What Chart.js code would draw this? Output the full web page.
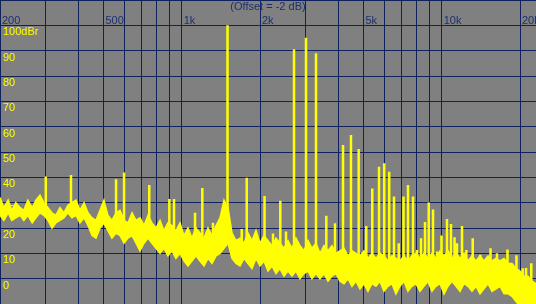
<!DOCTYPE html>
<html>
<head>
<meta charset="utf-8">
<script src="https://cdn.jsdelivr.net/npm/chart.js@4"></script>
<style>
  html, body { margin: 0; padding: 0; background: #808080; }
  #chart { display: block; }
</style>
</head>
<body>
<canvas id="chart" width="536" height="304"></canvas>
<script>
// ── Noise floor: sample frequencies (Hz) with upper / lower band edges (dBr) ──
var noiseFreqs = [
  200, 207, 215, 222, 230, 239, 247, 256, 266, 275,
  285, 295, 306, 317, 328, 340, 352, 365, 378, 392,
  406, 421, 436, 452, 468, 485, 502, 520, 539, 559,
  579, 600, 621, 644, 667, 691, 716, 742, 768, 796,
  825, 854, 885, 917, 950, 985, 1020, 1057, 1095, 1134,
  1175, 1218, 1262, 1308, 1355, 1404, 1454, 1507, 1561, 1617,
  1676, 1736, 1798, 1863, 1930, 2000, 2072, 2147, 2224, 2304,
  2387, 2473, 2563, 2655, 2751, 2850, 2953, 3059, 3169, 3284,
  3402, 3525, 3652, 3783, 3920, 4061, 4207, 4359, 4516, 4679,
  4847, 5022, 5203, 5391, 5585, 5786, 5995, 6211, 6435, 6667,
  6907, 7156, 7414, 7681, 7958, 8245, 8542, 8850, 9169, 9500,
  9850, 10205, 10573, 10954, 11349, 11759, 12180, 12619, 13074, 13546,
  14035, 14541, 15066, 15610, 16173, 16757, 17362, 17989, 18637, 19305,
  20000, 20721, 21468, 22242, 23044
];
var noiseUpper = [
  32, 28, 31, 27, 30, 28, 27, 31, 28, 31,
  33, 30, 28, 26, 25, 28, 26, 29, 30, 31,
  27, 30, 26, 24, 23, 27, 31, 25, 23, 26,
  27, 23, 22, 26, 23, 24, 21, 25, 22, 20,
  23, 19, 22, 21, 19, 22, 17, 20, 16, 20,
  18, 16, 20, 17, 21, 24, 31, 28, 18, 15,
  16, 14, 18, 15, 19, 14, 17, 15, 13, 16,
  14, 12, 15, 12, 16, 13, 11, 15, 12, 14,
  10, 13, 11, 13, 10, 11, 12, 9, 11, 10,
  9, 11, 8, 10, 8, 10, 9, 7, 9, 8,
  7, 9, 7, 9, 10, 8, 10, 8, 10, 8,
  11, 9, 11, 8, 10, 8, 10, 7, 9, 7,
  9, 7, 9, 7, 8, 7, 8, 6, 6, 4,
  3, 1, 1, -1, -2
];
var noiseLower = [
  25, 23, 26, 23, 24, 25, 23, 25, 22, 24,
  26, 25, 23, 20, 22, 23, 24, 26, 24, 25,
  22, 24, 21, 17, 16, 20, 22, 19, 16, 18,
  17, 14, 16, 17, 14, 11, 14, 16, 14, 12,
  10, 12, 9, 11, 8, 10, 7, 5, 7, 9,
  7, 5, 8, 6, 9, 10, 12, 14, 8, 6,
  5, 8, 6, 4, 8, 5, 7, 3, 5, 2,
  4, 1, 3, 1, 3, 0, 2, 3, 0, 2,
  0, 2, -1, 1, 2, -1, -2, 0, -3, -1,
  -4, -2, -5, -2, -3, -1, -5, -3, -2, -6,
  -3, -1, -5, -3, -2, -5, -3, -1, -5, -3,
  -2, -6, -3, -1, -3, -5, -2, -3, -5, -3,
  -6, -4, -2, -5, -4, -3, -6, -6, -7, -9,
  -11, -11, -12, -12, -12
];

// ── Harmonic / IMD spikes: frequency (Hz), top level and foot level (dBr) ──
var peakFreqs = [
  300, 375, 559, 600, 750, 896, 934, 1125, 1200, 1319,
  1500, 1701, 1778, 2082, 2244, 2394, 2518, 2703, 3006, 3284,
  3598, 3886, 4172, 4477, 4792, 5126, 5406, 5738, 6008, 6280,
  6553, 6833, 7128, 7418, 7754, 8035, 8324, 8624, 8912, 9258,
  9591, 9980, 10477, 10854, 11200, 11449, 11966, 12431, 13156, 14071,
  15402, 16310, 17900, 19380, 20480, 21100, 22100
];
var peakTops = [
  40.3, 40.9, 39.2, 41.9, 37, 31.4, 31.4, 26, 35.8, 22.1,
  100, 19.6, 39.8, 32.6, 17.8, 30.8, 18.6, 90.6, 95.1, 89,
  24.8, 21.9, 52.8, 56.7, 51.2, 20.8, 35.6, 44.2, 45.6, 42.2,
  32.4, 14, 32.4, 37, 32.4, 11.3, 16, 22.4, 30.1, 27.3,
  10.7, 17, 23.6, 21.6, 16.3, 14, 20.8, 11.3, 16, 9.4,
  12, 10, 11.5, 9.2, 4.1, 4.2, 6.1
];
var peakFoots = [
  26, 25, 19, 17, 17, 13, 13, 10, 10, 10,
  15, 8, 8, 7, 6, 6, 5, 5, 4, 4,
  3, 3, 2, 2, 1, 0, 0, 0, 0, 0,
  0, 0, 0, 0, 0, 0, 0, 0, 0, 0,
  0, 0, 0, 0, 0, 0, 0, 0, 0, 0,
  0, 0, 0, 0, -5, -5, -5
];

// ── Axis labels ─────────────────────────────────────────────────────
var gridFreqs = [200, 300, 400, 500, 600, 700, 800, 900, 1000,
                 2000, 3000, 4000, 5000, 6000, 7000, 8000, 9000, 10000, 20000];
var freqLabelValues = [200, 500, 1000, 2000, 5000, 10000, 20000];
var freqLabelTexts = ['200', '500', '1k', '2k', '5k', '10k', '20k'];
var offsetNote = '(Offset = -2 dB)';

var YELLOW = '#ffff00';
var GRID = '#10225e';
var TEXT_BLUE = '#1c2f72';
var FONT = '"Liberation Sans", Arial, sans-serif';

// ── Build datasets ──────────────────────────────────────────────────
var lowerData = noiseFreqs.map(function(f, i) { return { x: f, y: noiseLower[i] }; });
var upperData = noiseFreqs.map(function(f, i) { return { x: f, y: noiseUpper[i] }; });
var peakData = [];
peakFreqs.forEach(function(f, i) {
  peakData.push({ x: f, y: peakFoots[i] });
  peakData.push({ x: f, y: peakTops[i] });
  peakData.push({ x: f, y: null });
});

// no edge padding, the plot fills the whole canvas
function noPad(scale) {
  scale.paddingTop = 0;
  scale.paddingBottom = 0;
  scale.paddingLeft = 0;
  scale.paddingRight = 0;
}

var labelPlugin = {
  id: 'freqLabels',
  beforeDatasetsDraw: function(chart) {
    var ctx = chart.ctx;
    var xs = chart.scales.x;
    var ys = chart.scales.y;
    ctx.save();
    ctx.fillStyle = TEXT_BLUE;
    ctx.font = '11px ' + FONT;
    ctx.textBaseline = 'alphabetic';
    ctx.textAlign = 'left';
    var yBase = ys.getPixelForValue(100) - 1;
    freqLabelValues.forEach(function(v, i) {
      ctx.fillText(freqLabelTexts[i], xs.getPixelForValue(v) + 2, yBase);
    });
    ctx.textAlign = 'center';
    ctx.textBaseline = 'top';
    ctx.fillText(offsetNote, chart.width / 2, 1);
    ctx.restore();
  }
};

new Chart(document.getElementById('chart'), {
  type: 'line',
  data: {
    datasets: [
      {
        data: lowerData,
        borderColor: YELLOW,
        borderWidth: 1.5,
        pointRadius: 0,
        tension: 0,
        fill: false
      },
      {
        data: upperData,
        borderColor: YELLOW,
        backgroundColor: YELLOW,
        borderWidth: 1.5,
        pointRadius: 0,
        tension: 0,
        fill: '-1'
      },
      {
        data: peakData,
        borderColor: YELLOW,
        borderWidth: 2.5,
        pointRadius: 0,
        spanGaps: false,
        fill: false
      }
    ]
  },
  options: {
    responsive: false,
    animation: false,
    devicePixelRatio: 1,
    layout: { padding: 0 },
    plugins: {
      legend: { display: false },
      tooltip: { enabled: false },
      title: { display: false }
    },
    scales: {
      x: {
        type: 'logarithmic',
        min: 200,
        max: 23044,
        afterBuildTicks: function(scale) {
          scale.ticks = gridFreqs.map(function(v) { return { value: v }; });
        },
        afterFit: function(scale) { scale.height = 0; noPad(scale); },
        ticks: { display: false },
        grid: { color: GRID, lineWidth: 1, drawTicks: false },
        border: { display: false }
      },
      y: {
        min: -10,
        max: 110,
        afterFit: function(scale) { scale.width = 0; noPad(scale); },
        ticks: {
          stepSize: 10,
          mirror: true,
          padding: 3,
          labelOffset: 7,
          color: YELLOW,
          font: { family: FONT, size: 11 },
          callback: function(v) {
            if (v === 100) return '100dBr';
            if (v < 0 || v > 100) return '';
            return String(v);
          }
        },
        grid: { color: GRID, lineWidth: 1, drawTicks: false },
        border: { display: false }
      }
    }
  },
  plugins: [labelPlugin]
});
</script>
</body>
</html>
